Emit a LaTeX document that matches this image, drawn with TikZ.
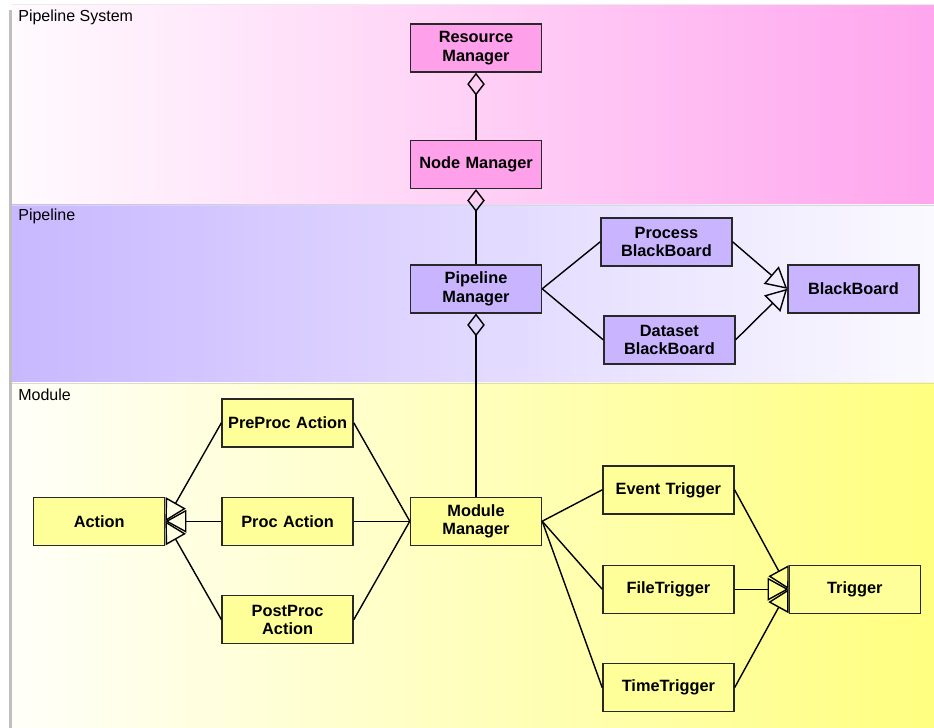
\documentclass[tikz,border=0pt]{standalone}
\usepackage{fontspec}
\setmainfont{Liberation Sans}
\usepackage{tikz}
\usetikzlibrary{arrows.meta, positioning, calc}
\definecolor{sysback}{RGB}{255,166,238}
\definecolor{pipeback}{RGB}{200,184,255}
\definecolor{modback}{RGB}{255,255,128}
\definecolor{sysfill}{RGB}{255,160,234}
\definecolor{pipefill}{RGB}{201,181,255}
\definecolor{modfill}{RGB}{255,255,153}
\definecolor{edge}{RGB}{40,40,40}

\begin{document}
\begin{tikzpicture}[
    cls/.style={rectangle, draw=edge, line width=0.8pt, minimum width=2.62cm, minimum height=0.96cm,
        text width=2.5cm, align=center, inner sep=0pt, font=\fontsize{9.3}{10.4}\selectfont\bfseries},
    sysbox/.style={cls, fill=sysfill},
    pipebox/.style={cls, fill=pipefill},
    modbox/.style={cls, fill=modfill},
    link/.style={draw=black, line width=0.8pt},
    agg/.style={link, {Diamond[open, length=13pt, width=10pt]}-},
    gen/.style={link, -{Triangle[open, length=12pt, width=13pt]}},
    band/.style={font=\fontsize{9.1}{11}\selectfont, anchor=base west, inner sep=0pt}]

    \useasboundingbox (0,0) rectangle (18.68,-14.56);

    % bands
    \fill[black!25] (0.17,-0.2) rectangle (0.24,-14.56);
    \fill[black!8] (0.24,-0.09) rectangle (18.68,-0.12);
    \shade[left color=sysback!5, right color=sysback] (0.24,-0.12) rectangle (18.68,-4.10);
    \shade[left color=pipeback, right color=pipeback!8] (0.24,-4.10) rectangle (18.68,-7.66);
    \shade[left color=modback!5, right color=modback] (0.24,-7.66) rectangle (18.68,-14.56);
    \draw[white!85!black, line width=0.3pt] (0.24,-4.10) -- (18.68,-4.10);
    \draw[white!85!black, line width=0.3pt] (0.24,-7.66) -- (18.68,-7.66);

    \node[band] (syslabel) at (0.36,-0.44) {Pipeline System};
    \node[band] (pipelabel) at (0.36,-4.42) {Pipeline};
    \node[band] (modlabel) at (0.36,-8.01) {Module};

    % Pipeline System
    \node[sysbox] (resmgr) at (9.52,-0.96) {Resource\\Manager};
    \node[sysbox, below=1.34cm of resmgr] (nodemgr) {Node Manager};

    % Pipeline
    \node[pipebox, below=1.50cm of nodemgr] (pipemgr) {Pipeline\\Manager};
    \node[pipebox, right=1.16cm of pipemgr, yshift=0.94cm] (procbb) {Process\\BlackBoard};
    \node[pipebox, right=1.22cm of pipemgr, yshift=-1.02cm] (databb) {Dataset\\BlackBoard};
    \node[pipebox, right=4.9cm of pipemgr] (blackbb) {BlackBoard};

    % Module
    \node[modbox, below=3.66cm of pipemgr] (modmgr) {Module\\Manager};
    \node[modbox, left=1.12cm of modmgr] (procact) {Proc Action};
    \node[modbox, above=0.98cm of procact] (preact) {PreProc Action};
    \node[modbox, below=0.98cm of procact] (postact) {PostProc\\Action};
    \node[modbox, left=1.12cm of procact] (action) {Action};
    \node[modbox, right=1.2cm of modmgr, yshift=-1.36cm] (filetrig) {FileTrigger};
    \node[modbox, above=1.0cm of filetrig] (eventtrig) {Event Trigger};
    \node[modbox, below=0.98cm of filetrig] (timetrig) {TimeTrigger};
    \node[modbox, right=1.08cm of filetrig] (trigger) {Trigger};

    % aggregation
    \draw[agg] (resmgr) -- (nodemgr);
    \draw[agg] (nodemgr) -- (pipemgr);
    \draw[agg] (pipemgr) -- (modmgr);

    % associations
    \draw[link] (pipemgr.east) -- (procbb.west);
    \draw[link] (pipemgr.east) -- (databb.west);
    \foreach \a in {preact, procact, postact}
        \draw[link] (modmgr.west) -- (\a.east);
    \foreach \t in {eventtrig, filetrig, timetrig}
        \draw[link] (modmgr.east) -- (\t.west);

    % generalization
    \draw[gen] (procbb.east) -- (blackbb.west);
    \draw[gen] (databb.east) -- (blackbb.west);
    \foreach \a in {preact, procact, postact}
        \draw[gen] (\a.west) -- (action.east);
    \foreach \t in {eventtrig, filetrig, timetrig}
        \draw[gen] (\t.east) -- (trigger.west);
\end{tikzpicture}
\end{document}
